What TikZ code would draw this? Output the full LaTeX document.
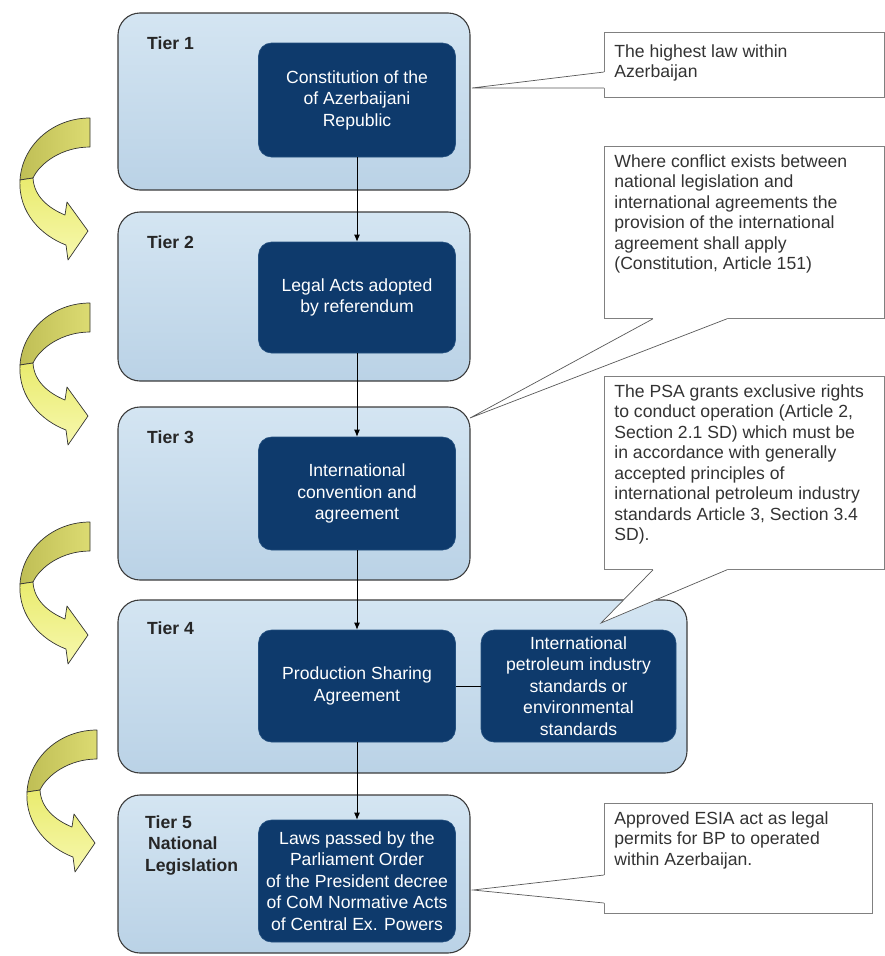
\documentclass[tikz,border=0pt]{standalone}
\usepackage{fontspec}
\setmainfont{Liberation Sans}
\usepackage{tikz}
\usetikzlibrary{arrows.meta}

\definecolor{tiertop}{HTML}{D4E5F2}
\definecolor{tierbot}{HTML}{BAD2E6}
\definecolor{tierline}{HTML}{3C3C3C}
\definecolor{navy}{HTML}{0E3A6C}
\definecolor{navyline}{HTML}{24507F}
\definecolor{noteline}{HTML}{808080}
\definecolor{olive}{HTML}{BFBE55}
\definecolor{oliveright}{HTML}{DCDB72}
\definecolor{lemon}{HTML}{E9EB6E}
\definecolor{lemonlight}{HTML}{F7F8AE}

\newcommand{\notetext}[3]{\parbox[t][#2][t]{#1}{\raggedright #3}}

\tikzset{
    tier/.style={draw=tierline, line width=1.1pt, rounded corners=22pt, top color=tiertop, bottom color=tierbot, inner sep=0pt},
    law/.style={draw=navyline, line width=0.6pt, fill=navy, rounded corners=13pt, text=white, align=center, minimum width=197pt, inner sep=2pt, font=\fontsize{17.6}{21.5}\selectfont},
    tierlabel/.style={font=\bfseries\fontsize{17.6}{21.5}\selectfont, text=black!85, anchor=west, align=left, inner sep=0pt},
    note/.style={draw=noteline, line width=0.8pt, fill=white, anchor=north west, inner xsep=10pt, inner ysep=8pt, font=\fontsize{17.6}{20.5}\selectfont, text=black!80},
    conn/.style={line width=0.9pt, -{Latex[length=7pt,width=6pt]}},
    link/.style={line width=0.9pt},
    pointer/.style={draw=black!65, line width=0.7pt},
    band/.style={draw=black!80, line width=0.7pt, line join=round}
}

\begin{document}
\begin{tikzpicture}[x=1pt, y=-1pt]
            \useasboundingbox (0,0) rectangle (885,956);

            % tiers
            \node[tier, minimum width=352pt, minimum height=177pt] (t1) at (294,101.5) {};
            \node[tier, minimum width=352pt, minimum height=169pt] (t2) at (294,296.5) {};
            \node[tier, minimum width=352pt, minimum height=173pt] (t3) at (294,493.5) {};
            \node[tier, minimum width=569pt, minimum height=173pt] (t4) at (402.5,686.5) {};
            \node[tier, minimum width=352pt, minimum height=158pt] (t5) at (294,874) {};

            \node[tierlabel] (l1) at (147,43) {Tier 1};
            \node[tierlabel] (l2) at (147,242) {Tier 2};
            \node[tierlabel] (l3) at (147,437) {Tier 3};
            \node[tierlabel] (l4) at (147,628) {Tier 4};
            \node[tierlabel] (l5) at (145,845) {Tier 5\\\hspace{3pt}National\\Legislation};

            % laws
            \node[law, minimum height=114pt] (con) at (357,100) {Constitution of the\\of Azerbaijani\\Republic};
            \node[law, minimum height=111pt] (legal) at (357,297.5) {Legal Acts adopted\\by referendum};
            \node[law, minimum height=113pt] (intl) at (357,493.5) {International\\convention and\\agreement};
            \node[law, minimum height=112pt] (psa) at (357,686) {Production Sharing\\Agreement};
            \node[law, minimum height=112pt, minimum width=195pt] (std) at (578.5,686) {International\\petroleum industry\\standards or\\environmental\\standards};
            \node[law, minimum height=122pt] (laws) at (357,881) {Laws passed by the\\Parliament Order\\of the President decree\\of CoM Normative Acts\\of Central Ex. Powers};

            \path[conn] (con) edge (legal);
            \path[conn] (legal) edge (intl);
            \path[conn] (intl) edge (psa);
            \path[conn] (psa) edge (laws);
            \path[link] (psa) edge (std);

            % notes
            \node[note] (c1) at (604,32) {\notetext{260pt}{49pt}{\vspace*{4pt}The highest law within\\Azerbaijan}};
            \node[note] (c2) at (604,146) {\notetext{260pt}{156pt}{Where conflict exists between\\national legislation and\\international agreements the\\provision of the international\\agreement shall apply\\(Constitution, Article 151)}};
            \node[note] (c3) at (604,376) {\notetext{260pt}{177pt}{The PSA grants exclusive rights\\to conduct operation (Article 2,\\Section 2.1 SD) which must be\\in accordance with generally\\accepted principles of\\international petroleum industry\\standards Article 3, Section 3.4\\SD).}};
            \node[note] (c4) at (604,803) {\notetext{248pt}{94pt}{Approved ESIA act as legal\\permits for BP to operated\\within Azerbaijan.}};

            \coordinate (p1) at (472,88);
            \coordinate (p2) at (470,418);
            \coordinate (p3) at (601,623);
            \coordinate (p4) at (473,890);

            \fill[white] ([yshift=-40pt]c1.north west) -- (p1) -- ([yshift=-56pt]c1.north west) -- ([xshift=1.5pt,yshift=-56pt]c1.north west) -- ([xshift=1.5pt,yshift=-40pt]c1.north west) -- cycle;
            \draw[pointer] ([yshift=-40pt]c1.north west) -- (p1) -- ([yshift=-56pt]c1.north west);

            \fill[white] ([xshift=49pt]c2.south west) -- (p2) -- ([xshift=123pt]c2.south west) -- ([xshift=123pt,yshift=1.5pt]c2.south west) -- ([xshift=49pt,yshift=1.5pt]c2.south west) -- cycle;
            \draw[pointer] ([xshift=49pt]c2.south west) -- (p2) -- ([xshift=123pt]c2.south west);

            \fill[white] ([xshift=49pt]c3.south west) -- (p3) -- ([xshift=123pt]c3.south west) -- ([xshift=123pt,yshift=1.5pt]c3.south west) -- ([xshift=49pt,yshift=1.5pt]c3.south west) -- cycle;
            \draw[pointer] ([xshift=49pt]c3.south west) -- (p3) -- ([xshift=123pt]c3.south west);

            \fill[white] ([yshift=-72pt]c4.north west) -- (p4) -- ([yshift=-100pt]c4.north west) -- ([xshift=1.5pt,yshift=-100pt]c4.north west) -- ([xshift=1.5pt,yshift=-72pt]c4.north west) -- cycle;
            \draw[pointer] ([yshift=-72pt]c4.north west) -- (p4) -- ([yshift=-100pt]c4.north west);

            % curved arrows on the left
            \foreach \ax/\ay in {90/118, 90/303, 90/522, 97/730}{
                \begin{scope}[shift={(\ax,\ay)}]
                    \path[band, left color=olive, right color=oliveright] (0,0) .. controls (-38,0) and (-68,28) .. (-70,62) -- (-57,60) .. controls (-50,45) and (-28,29) .. (0,29) -- cycle;
                    \path[band, top color=lemon, bottom color=lemonlight] (-70,62) .. controls (-72,95) and (-48,118) .. (-24,127) -- (-22,142) -- (-2,113) -- (-23,84) -- (-25,97) .. controls (-42,90) and (-56,78) .. (-57,60) -- cycle;
                \end{scope}
            }
        \end{tikzpicture}
\end{document}
